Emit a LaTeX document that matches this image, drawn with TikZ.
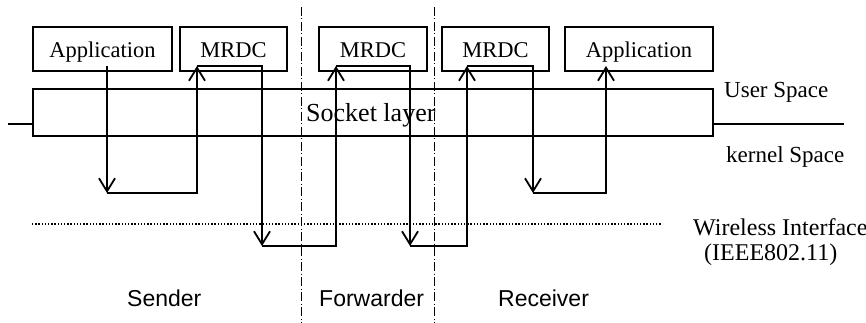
\documentclass[tikz,border=0pt]{standalone}
\usepackage{fontspec}
\setmainfont{Liberation Serif}
\newfontfamily\arialfont{Liberation Sans}
\usetikzlibrary{arrows.meta}
\begin{document}
\begin{tikzpicture}[x=1pt,y=-1pt,
 box/.style={draw,line width=1.6pt,inner sep=0pt,minimum height=44pt,text height=17pt,text depth=0pt,font=\fontsize{22.5}{27}\selectfont},
 flow/.style={line width=1.8pt},
 tip/.style={flow,-{Straight Barb[length=13pt,width=16pt]}},
 lbl/.style={anchor=base west,inner sep=0pt,font=\fontsize{23}{27}\selectfont},
 role/.style={anchor=base west,inner sep=0pt,font=\arialfont\fontsize{23}{27}\selectfont},
 divider/.style={line width=0.8pt,dash pattern=on 9pt off 2.5pt on 1pt off 2.5pt},
 wline/.style={line width=1.3pt,dash pattern=on 1.3pt off 1.9pt},
]
\useasboundingbox (0,0) rectangle (866,323);

% boxes
\node[box,minimum width=139pt] (app1) at (102.5,49) {Application};
\node[box,minimum width=107pt] (mrdc1) at (233.5,49) {MRDC};
\node[box,minimum width=108pt] (mrdc2) at (373,49) {MRDC};
\node[box,minimum width=107pt] (mrdc3) at (495.5,49) {MRDC};
\node[box,minimum width=148pt] (app2) at (639,49) {Application};

% socket layer
\node[draw,line width=1.6pt,inner sep=0pt,minimum width=680pt,minimum height=47pt] (sock) at (373,112.5) {};
\node[anchor=base west,inner sep=0pt,font=\fontsize{26}{30}\selectfont] (socktxt) at (306,122) {Socket layer};
\coordinate (lend) at (8,124);
\coordinate (rend) at (844,124);
\draw[line width=1.6pt] (lend) -- (lend -| sock.west);
\draw[line width=1.6pt] (rend -| sock.east) -- (rend);

% dividers
\coordinate (d1t) at (301,7);
\coordinate (d1b) at (301,323);
\coordinate (d2t) at (434,7);
\coordinate (d2b) at (434,323);
\draw[divider] (d1t) -- (d1b);
\draw[divider] (d2t) -- (d2b);

% wireless line
\coordinate (w1) at (32,224);
\coordinate (w2) at (662,224);
\draw[wline] (w1) -- (w2);

% flow coordinates
\coordinate (a1) at (107,66);
\coordinate (c1) at (107,193);
\coordinate (m1L) at (197,66);
\coordinate (c2) at (262,246);
\coordinate (m2L) at (336,66);
\coordinate (c3) at (410,246);
\coordinate (m3L) at (467,66);
\coordinate (c4) at (533,193);
\coordinate (a2) at (606,66);

\draw[tip] (a1) -- (c1);
\draw[tip] (c1) -| (m1L);
\draw[tip] (m1L) -| (c2);
\draw[tip] (c2) -| (m2L);
\draw[tip] (m2L) -| (c3);
\draw[tip] (c3) -| (m3L);
\draw[tip] (m3L) -| (c4);
\draw[tip] (c4) -| (a2);

% labels
\node[lbl] (us) at (724,98) {User Space};
\node[lbl] (ks) at (726,163) {kernel Space};
\node[lbl,font=\fontsize{24}{28}\selectfont] (wi) at (693,235) {Wireless Interface};
\node[lbl,font=\fontsize{24}{28}\selectfont] (ieee) at (704,260) {(IEEE802.11)};

\node[role] (snd) at (127,306) {Sender};
\node[role] (fwd) at (319,306) {Forwarder};
\node[role] (rcv) at (498,306) {Receiver};
\end{tikzpicture}
\end{document}
